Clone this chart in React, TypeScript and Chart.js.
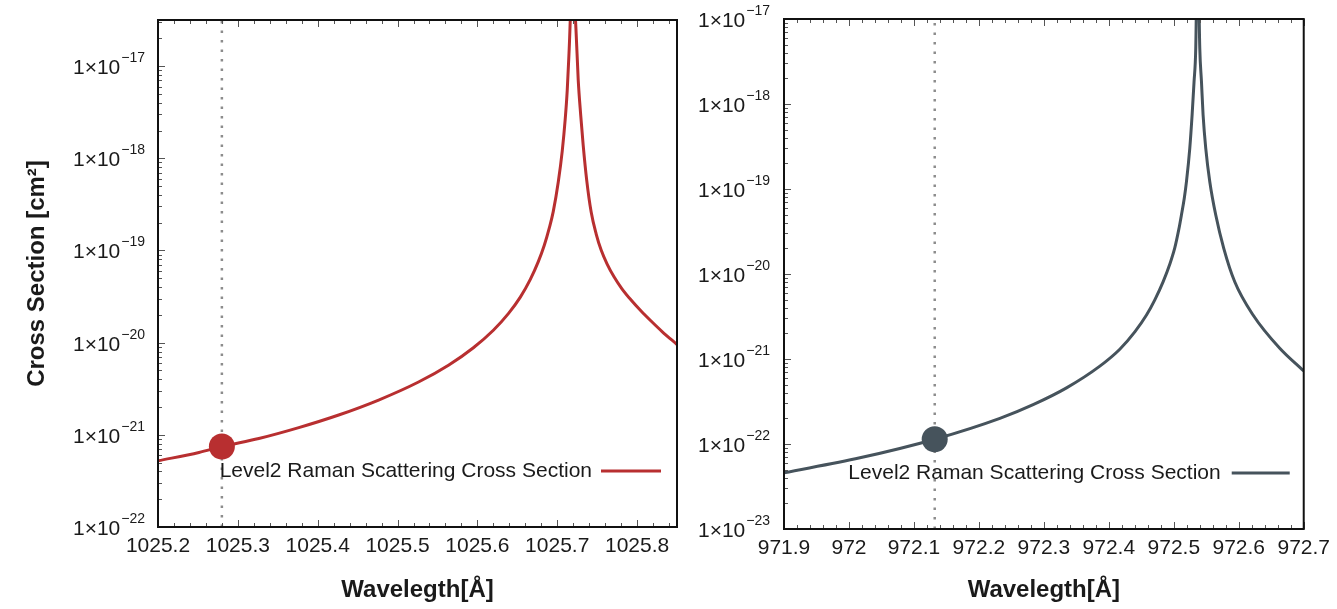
import React, { useEffect, useRef } from "react";
import { Chart, registerables } from "chart.js";

Chart.register(...registerables);

// ---------- Data ----------
const seriesLabel = "Level2 Raman Scattering Cross Section";

// Left panel: Lyβ region
const leftWavelength = [
  1025.2, 1025.2513, 1025.28, 1025.3263, 1025.3763, 1025.4263, 1025.4763, 1025.5263,
  1025.5638, 1025.595, 1025.62, 1025.6388, 1025.6538, 1025.6663, 1025.6763,
  1025.6838, 1025.69, 1025.695, 1025.7013, 1025.7063, 1025.71, 1025.7125, 1025.715,
  1025.7191,
  1025.7234, 1025.7263, 1025.7294, 1025.7325, 1025.7369, 1025.7425, 1025.7488,
  1025.755, 1025.7625, 1025.7713, 1025.7813, 1025.7925, 1025.805, 1025.8175,
  1025.8313, 1025.85,
];
const leftCross = [
  5.22e-22, 6.43e-22, 7.46e-22, 9.12e-22, 1.197e-21, 1.64e-21, 2.384e-21, 3.74e-21,
  5.69e-21, 8.8e-21, 1.363e-20, 2.063e-20, 3.115e-20, 4.85e-20, 7.56e-20,
  1.138e-19, 1.745e-19, 2.635e-19, 5.52e-19, 1.203e-18, 2.65e-18, 5.41e-18, 1.544e-17,
  1e-16,
  2.58e-17, 7.05e-18, 2.94e-18, 1.39e-18, 5.8e-19, 2.61e-19, 1.506e-19,
  1.01e-19, 7.12e-20, 5.15e-20, 3.815e-20, 2.897e-20, 2.202e-20, 1.715e-20,
  1.319e-20, 9.54e-21,
];
const leftMarkerX = [1025.28];
const leftMarkerY = [7.46e-22];
const leftXTicks = [1025.2, 1025.3, 1025.4, 1025.5, 1025.6, 1025.7, 1025.8];
const leftYTicks = [1e-22, 1e-21, 1e-20, 1e-19, 1e-18, 1e-17];
const leftXRange = [1025.2, 1025.85];
const leftYRange = [1e-22, 3.16e-17];

// Right panel: Lyγ region
const rightWavelength = [
  971.9, 972.0169, 972.132, 972.2323, 972.2835, 972.3349, 972.3862, 972.4169,
  972.44, 972.458, 972.4708, 972.4835, 972.4938, 972.5015, 972.5077, 972.5118,
  972.5162, 972.5195, 972.5246, 972.5282, 972.5312, 972.5338,
  972.5366,
  972.54, 972.5426, 972.5451, 972.5492, 972.5554, 972.5646, 972.5769, 972.5938,
  972.622, 972.6631, 972.7,
];
const rightCross = [
  4.58e-23, 6.88e-23, 1.139e-22, 2.006e-22, 2.907e-22, 4.58e-22, 8.25e-22, 1.304e-21,
  2.089e-21, 3.293e-21, 4.97e-21, 8.09e-21, 1.304e-20, 2.028e-20, 3.346e-20, 4.97e-20,
  7.85e-20, 1.219e-19, 3.01e-19, 7.43e-19, 1.83e-18, 4.52e-18,
  1e-16,
  4.52e-18, 1.83e-18, 7.43e-19, 3.01e-19, 1.219e-19, 4.94e-20, 2.006e-20, 8.11e-21,
  3.293e-21, 1.336e-21, 7.22e-22,
];
const rightMarkerX = [972.132];
const rightMarkerY = [1.139e-22];
const rightXTicks = [971.9, 972.0, 972.1, 972.2, 972.3, 972.4, 972.5, 972.6, 972.7];
const rightYTicks = [1e-23, 1e-22, 1e-21, 1e-20, 1e-19, 1e-18, 1e-17];
const rightXRange = [971.9, 972.7];
const rightYRange = [1e-23, 1e-17];

// ---------- Styling ----------
const FONT = "'Liberation Sans', Arial, Helvetica, sans-serif";
const TEXT = "#1a1a1a";

function expText(v: number): string {
  const e = Math.round(Math.log10(v));
  return (e < 0 ? "\u2212" : "") + String(Math.abs(e));
}

const gnuFrame = {
  id: "gnuFrame",
  afterDraw(chart: any, _args: any, opts: any) {
    const { ctx, chartArea: a, scales } = chart;
    const xs = scales.x;
    const ys = scales.y;
    ctx.save();
    // inward ticks
    ctx.strokeStyle = "#555";
    ctx.lineWidth = 1;
    ctx.beginPath();
    const step = opts.xMinorStep as number;
    const i0 = Math.ceil(xs.min / step - 1e-6);
    const i1 = Math.floor(xs.max / step + 1e-6);
    const majors: number[] = opts.xMajors;
    for (let i = i0; i <= i1; i++) {
      const v = i * step;
      const isMajor = majors.some((m) => Math.abs(m - v) < step / 10);
      const len = isMajor ? 7 : 4;
      const px = Math.round(xs.getPixelForValue(v)) + 0.5;
      ctx.moveTo(px, a.bottom);
      ctx.lineTo(px, a.bottom - len);
      ctx.moveTo(px, a.top);
      ctx.lineTo(px, a.top + len);
    }
    const d0 = Math.floor(Math.log10(ys.min) + 1e-9);
    const d1 = Math.ceil(Math.log10(ys.max) - 1e-9);
    for (let d = d0; d <= d1; d++) {
      for (let k = 1; k <= 9; k++) {
        const v = k * Math.pow(10, d);
        if (v < ys.min * 0.999 || v > ys.max * 1.001) continue;
        const py = Math.round(ys.getPixelForValue(v)) + 0.5;
        const len = k === 1 ? 7 : 4;
        ctx.moveTo(a.left, py);
        ctx.lineTo(a.left + len, py);
      }
    }
    ctx.stroke();
    // frame
    ctx.strokeStyle = "#111";
    ctx.lineWidth = 2;
    ctx.strokeRect(a.left, a.top, a.right - a.left, a.bottom - a.top);

    // y tick labels: 1×10^{n} with a raised exponent
    ctx.fillStyle = TEXT;
    ctx.textBaseline = "alphabetic";
    ctx.textAlign = "right";
    const xRight = a.left - opts.yLabelGap;
    for (const t of ys.ticks) {
      const py = ys.getPixelForValue(t.value);
      const ex = expText(t.value);
      ctx.font = `14px ${FONT}`;
      const ew = ctx.measureText(ex).width;
      ctx.fillText(ex, xRight, py - 4);
      ctx.font = `21px ${FONT}`;
      ctx.fillText("1×10", xRight - ew - 1, py + 8);
    }

    // key (gnuplot style: text then sample)
    const ds = chart.data.datasets.find((d: any) => d.label);
    if (ds) {
      const y = a.bottom - 56;
      ctx.font = `21px ${FONT}`;
      ctx.fillStyle = TEXT;
      ctx.textAlign = "right";
      ctx.textBaseline = "middle";
      ctx.fillText(ds.label, a.right - opts.keyTextRight, y);
      ctx.strokeStyle = ds.borderColor;
      ctx.lineWidth = 3;
      ctx.beginPath();
      ctx.moveTo(a.right - opts.keySample[0], y);
      ctx.lineTo(a.right - opts.keySample[1], y);
      ctx.stroke();
    }
    ctx.restore();
  },
};

type PanelSpec = {
  left: number;
  width: number;
  wavelength: number[];
  cross: number[];
  markerX: number[];
  markerY: number[];
  xTicks: number[];
  yTicks: number[];
  xRange: number[];
  yRange: number[];
  color: string;
  yAxisWidth: number;
  xAxisHeight: number;
  padTop: number;
  padRight: number;
  yTitle: string | null;
  yLabelGap: number;
  keyTextRight: number;
  keySample: number[];
};

function buildConfig(p: PanelSpec): any {
  const curve = p.wavelength.map((x, i) => ({ x, y: p.cross[i] }));
  const marker = p.markerX.map((x, i) => ({ x, y: p.markerY[i] }));
  const guide = [
    { x: p.markerX[0], y: p.yRange[0] },
    { x: p.markerX[0], y: p.yRange[1] },
  ];
  return {
    type: "line",
    data: {
      datasets: [
        {
          data: marker,
          showLine: false,
          pointRadius: 13,
          pointHoverRadius: 13,
          pointBackgroundColor: p.color,
          pointBorderWidth: 0,
          borderColor: p.color,
          order: 0,
          clip: false,
        },
        {
          label: seriesLabel,
          data: curve,
          borderColor: p.color,
          borderWidth: 3,
          pointRadius: 0,
          cubicInterpolationMode: "monotone",
          fill: false,
          order: 1,
        },
        {
          data: guide,
          borderColor: "#8c8c8c",
          borderWidth: 2.5,
          borderDash: [2.5, 7],
          pointRadius: 0,
          fill: false,
          order: 2,
        },
      ],
    },
    options: {
      responsive: false,
      animation: false,
      devicePixelRatio: 1,
      layout: { padding: { left: 0, top: p.padTop, right: p.padRight, bottom: 0 } },
      plugins: {
        legend: { display: false },
        tooltip: { enabled: false },
        gnuFrame: {
          xMinorStep: 0.02,
          xMajors: p.xTicks,
          yLabelGap: p.yLabelGap,
          keyTextRight: p.keyTextRight,
          keySample: p.keySample,
        },
      },
      scales: {
        x: {
          type: "linear",
          min: p.xRange[0],
          max: p.xRange[1],
          grid: { display: false, drawTicks: false },
          border: { display: false },
          afterBuildTicks: (s: any) => {
            s.ticks = p.xTicks.map((v) => ({ value: v }));
          },
          afterFit: (s: any) => {
            s.height = p.xAxisHeight;
          },
          ticks: {
            padding: 7,
            autoSkip: false,
            maxRotation: 0,
            color: TEXT,
            font: { family: FONT, size: 21 },
            callback: (v: any) => Number(v).toFixed(1).replace(/\.0$/, ""),
          },
          title: {
            display: true,
            text: "Wavelegth[Å]",
            color: TEXT,
            font: { family: FONT, size: 24, weight: "bold" },
            padding: { top: 0, bottom: 4 },
          },
        },
        y: {
          type: "logarithmic",
          min: p.yRange[0],
          max: p.yRange[1],
          grid: { display: false, drawTicks: false },
          border: { display: false },
          afterBuildTicks: (s: any) => {
            s.ticks = p.yTicks.map((v) => ({ value: v, major: true }));
          },
          afterFit: (s: any) => {
            s.width = p.yAxisWidth;
          },
          ticks: {
            display: false,
            autoSkip: false,
          },
          title: {
            display: !!p.yTitle,
            text: p.yTitle ?? "",
            color: TEXT,
            font: { family: FONT, size: 24, weight: "bold" },
            padding: { top: 23, bottom: 0 },
          },
        },
      },
    },
    plugins: [gnuFrame],
  };
}

const leftPanel: PanelSpec = {
  left: 0,
  width: 690,
  wavelength: leftWavelength,
  cross: leftCross,
  markerX: leftMarkerX,
  markerY: leftMarkerY,
  xTicks: leftXTicks,
  yTicks: leftYTicks,
  xRange: leftXRange,
  yRange: leftYRange,
  color: "#b82f30",
  yAxisWidth: 158,
  xAxisHeight: 82,
  padTop: 20,
  padRight: 13,
  yTitle: "Cross Section [cm²]",
  yLabelGap: 13,
  keyTextRight: 85,
  keySample: [76, 16],
};

const rightPanel: PanelSpec = {
  left: 690,
  width: 647,
  wavelength: rightWavelength,
  cross: rightCross,
  markerX: rightMarkerX,
  markerY: rightMarkerY,
  xTicks: rightXTicks,
  yTicks: rightYTicks,
  xRange: rightXRange,
  yRange: rightYRange,
  color: "#46535c",
  yAxisWidth: 94,
  xAxisHeight: 80,
  padTop: 19,
  padRight: 33,
  yTitle: null,
  yLabelGap: 14,
  keyTextRight: 83,
  keySample: [72, 14],
};

function Panel({ spec }: { spec: PanelSpec }) {
  const ref = useRef<HTMLCanvasElement | null>(null);
  useEffect(() => {
    if (!ref.current) return;
    const chart = new Chart(ref.current, buildConfig(spec));
    return () => chart.destroy();
  }, [spec]);
  return (
    <div
      style={{
        position: "absolute",
        left: spec.left,
        top: 0,
        width: spec.width,
        height: 609,
      }}
    >
      <canvas
        ref={ref}
        width={spec.width}
        height={609}
        style={{ width: spec.width, height: 609, display: "block" }}
      />
    </div>
  );
}

export default function App() {
  return (
    <div
      style={{
        position: "fixed",
        left: 0,
        top: 0,
        width: 1337,
        height: 609,
        background: "#ffffff",
        overflow: "hidden",
      }}
    >
      <Panel spec={leftPanel} />
      <Panel spec={rightPanel} />
    </div>
  );
}
